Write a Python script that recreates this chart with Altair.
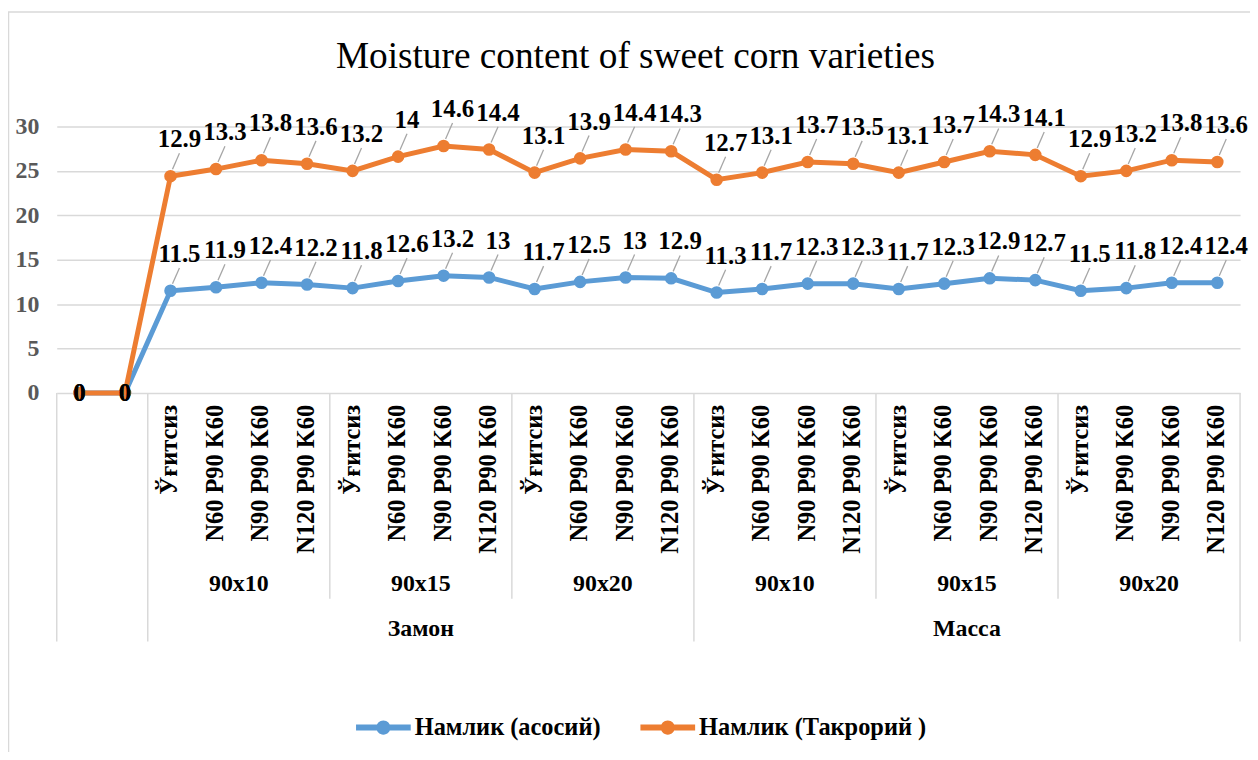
import altair as alt
import pandas as pd

# ---------------- data ----------------
treatments = ["Ўғитсиз", "N60 P90 K60", "N90 P90 K60", "N120 P90 K60"]
spacings = ["90x10", "90x15", "90x20"]
varieties = ["Замон", "Масса"]
blank_count = 2

series_names = ["Намлик (асосий)", "Намлик (Такрорий )"]
series_colors = ["#5B9BD5", "#ED7D31"]

main_values = [0, 0,
               11.5, 11.9, 12.4, 12.2,
               11.8, 12.6, 13.2, 13.0,
               11.7, 12.5, 13.0, 12.9,
               11.3, 11.7, 12.3, 12.3,
               11.7, 12.3, 12.9, 12.7,
               11.5, 11.8, 12.4, 12.4]
repeat_values = [0, 0,
                 12.9, 13.3, 13.8, 13.6,
                 13.2, 14.0, 14.6, 14.4,
                 13.1, 13.9, 14.4, 14.3,
                 12.7, 13.1, 13.7, 13.5,
                 13.1, 13.7, 14.3, 14.1,
                 12.9, 13.2, 13.8, 13.6]
y_ticks = [0, 5, 10, 15, 20, 25, 30]
title_text = "Moisture content of sweet corn varieties"

# ---------------- tables built from the arrays ----------------
leaf_labels = [""] * blank_count + treatments * (len(spacings) * len(varieties))
n = len(leaf_labels)

rows = []
all_series = [main_values, repeat_values]
for s_i, (name, vals) in enumerate(zip(series_names, all_series)):
    for i, v in enumerate(vals):
        base_v = sum(sv[i] for sv in all_series[:s_i])
        rows.append({"idx": i, "series": name, "value": v, "top": base_v + v,
                     "label": f"{v:g}", "order": s_i})
pts = pd.DataFrame(rows)

leaf_df = pd.DataFrame({"idx": list(range(n)), "leaf": leaf_labels})

spacing_rows, variety_rows, sep_rows = [], [], []
sep_rows.append({"pos": -0.5, "level": "full"})
sep_rows.append({"pos": blank_count - 0.5, "level": "full"})
start = blank_count
for v in varieties:
    v_start = start
    for s in spacings:
        end = start + len(treatments) - 1
        spacing_rows.append({"name": s, "center": (start + end) / 2})
        start = end + 1
        sep_rows.append({"pos": end + 0.5, "level": "mid"})
    variety_rows.append({"name": v, "center": (v_start + start - 1) / 2})
    sep_rows[-1]["level"] = "full"
spacing_df = pd.DataFrame(spacing_rows)
variety_df = pd.DataFrame(variety_rows)
sep_df = pd.DataFrame(sep_rows)

# ---------------- styling ----------------
W, H = 1190, 268
FONT = "Liberation Serif"
xs = alt.Scale(domain=[-0.5, n - 0.5], nice=False, zero=False)
ys = alt.Scale(domain=[0, 30], nice=False)
cscale = alt.Scale(domain=series_names, range=series_colors)

legend_path = ("M-1,-0.11 L1,-0.11 L1,0.11 L-1,0.11 Z "
               "M0.26,0 A0.26,0.26 0 1,1 -0.26,0 A0.26,0.26 0 1,1 0.26,0 Z")
legend = alt.Legend(orient="none", legendX=301, legendY=577,
                    direction="horizontal", title=None,
                    symbolType=legend_path, symbolSize=3025,
                    symbolStrokeWidth=0, labelFont=FONT,
                    labelFontSize=24.5, labelFontWeight="bold",
                    labelColor="black", labelOffset=4,
                    columnPadding=40, labelLimit=400)

X = alt.X("idx:Q", scale=xs, axis=None)
Y = alt.Y("top:Q", scale=ys, axis=alt.Axis(values=y_ticks, title=None))

base = alt.Chart(pts)

points = base.mark_point(filled=True, size=160, opacity=1).encode(
    x=X, y=Y, color=alt.Color("series:N", scale=cscale, legend=legend),
)

lines = base.mark_line(strokeWidth=5).encode(
    x=X, y=Y, color=alt.Color("series:N", scale=cscale, legend=legend),
    detail="series:N",
)

leaders = base.transform_filter("datum.value > 0").mark_rule(
    color="#a6a6a6", strokeWidth=1.3, xOffset=2, x2Offset=9, yOffset=-7, y2Offset=-23
).encode(x=X, x2="idx:Q", y=Y, y2="top:Q")

labels = base.transform_filter("datum.value > 0").mark_text(
    dx=9, dy=-37, font=FONT, fontSize=25, fontWeight="bold", color="black"
).encode(x=X, y=Y, text="label:N")

zero_labels = base.transform_filter("datum.value == 0").mark_text(
    font=FONT, fontSize=25, fontWeight="bold", color="black", baseline="middle"
).encode(x=X, y=Y, text="label:N")

leaf_text = alt.Chart(leaf_df).mark_text(
    angle=270, align="right", baseline="middle", font=FONT, fontSize=24.5,
    fontWeight="bold", color="black"
).encode(x=X, y=alt.value(H + 12), text="leaf:N")

spacing_text = alt.Chart(spacing_df).mark_text(
    baseline="middle", font=FONT, fontSize=24, fontWeight="bold", color="black"
).encode(x=alt.X("center:Q", scale=xs, axis=None), y=alt.value(H + 192), text="name:N")

variety_text = alt.Chart(variety_df).mark_text(
    baseline="middle", font=FONT, fontSize=24, fontWeight="bold", color="black"
).encode(x=alt.X("center:Q", scale=xs, axis=None), y=alt.value(H + 237), text="name:N")

sep_full = alt.Chart(sep_df).transform_filter("datum.level == 'full'").mark_rule(
    color="#d9d9d9", strokeWidth=1.5
).encode(x=alt.X("pos:Q", scale=xs, axis=None), y=alt.value(H), y2=alt.value(H + 250))

sep_mid = alt.Chart(sep_df).transform_filter("datum.level == 'mid'").mark_rule(
    color="#d9d9d9", strokeWidth=1.5
).encode(x=alt.X("pos:Q", scale=xs, axis=None), y=alt.value(H), y2=alt.value(H + 207))

title = alt.Chart(pd.DataFrame({"t": [title_text]})).mark_text(
    font=FONT, fontSize=37.5, color="black", baseline="middle", align="center"
).encode(x=alt.value(582), y=alt.value(-70), text="t:N")

frame_top = alt.Chart(pd.DataFrame({"a": [0]})).mark_rule(color="#d9d9d9", strokeWidth=1.5).encode(
    x=alt.value(-49), x2=alt.value(W + 10), y=alt.value(-115))
frame_left = alt.Chart(pd.DataFrame({"a": [0]})).mark_rule(color="#d9d9d9", strokeWidth=1.5).encode(
    x=alt.value(-48.5), y=alt.value(-115), y2=alt.value(H + 370))

chart = alt.layer(
    points, lines, frame_top, frame_left, sep_full, sep_mid, leaders, labels, zero_labels,
    leaf_text, spacing_text, variety_text, title
).properties(
    width=W, height=H,
    autosize=alt.AutoSizeParams(type="none"),
    padding={"left": 49, "top": 117, "right": 10, "bottom": 359},
).configure_view(stroke=None).configure_axisY(
    domain=False, ticks=False, labelFont=FONT, labelFontSize=24, labelFontWeight="bold",
    labelColor="#595959", labelPadding=18, gridColor="#d9d9d9", gridWidth=1.5
)

chart.save("out.html", embed_options={"renderer": "svg", "actions": False})
